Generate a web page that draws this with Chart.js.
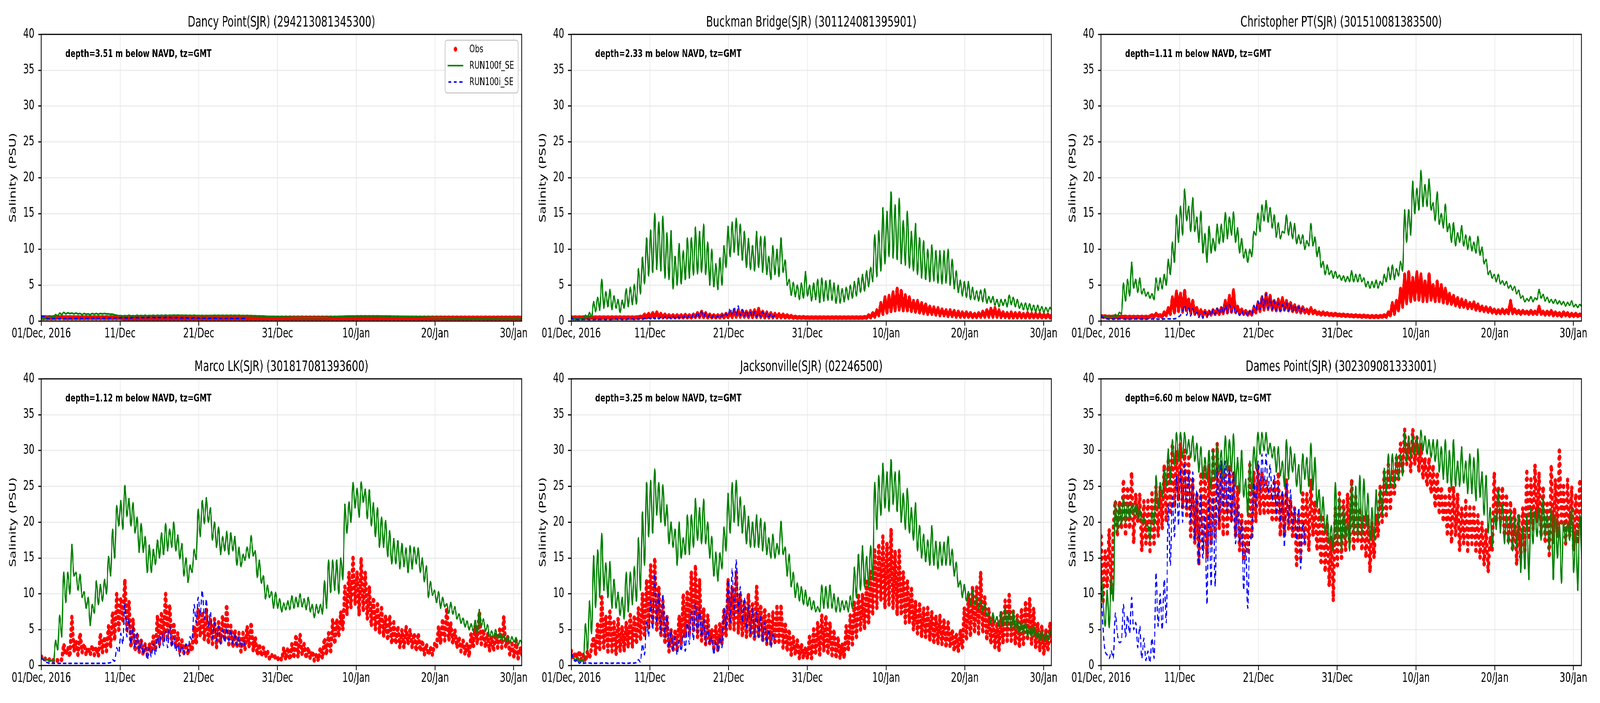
<!DOCTYPE html>
<html>
<head>
<meta charset="utf-8">
<script src="https://cdn.jsdelivr.net/npm/chart.js@4.4.1/dist/chart.umd.min.js"></script>
<style>
  html, body { margin: 0; padding: 0; background: #fff; overflow: hidden; }
  #outer { position: relative; overflow: hidden; background: #fff; }
  #wrap { position: absolute; left: 0; top: 0; width: 6000px; height: 1800px; transform-origin: 0 0; }
  #wrap canvas { position: absolute; }
</style>
</head>
<body>
<div id="outer"><div id="wrap"></div></div>
<script>
// sampling interval of the series below (half a tidal cycle), hours from 01/Dec 00:00
const stepHours = 6.21;
const xMaxHours = 1464;
const xTickHours = [0, 240, 480, 720, 960, 1200, 1440];
const xTickLabels = ['01/Dec, 2016', '11/Dec', '21/Dec', '31/Dec', '10/Jan', '20/Jan', '30/Jan'];
const yMax = 40;
const yStep = 5;
const seriesLabels = ['Obs', 'RUN100f_SE', 'RUN100i_SE'];

const stationTitles = [
  'Dancy Point(SJR) (294213081345300)',
  'Buckman Bridge(SJR) (301124081395901)',
  'Christopher PT(SJR) (301510081383500)',
  'Marco LK(SJR) (301817081393600)',
  'Jacksonville(SJR) (02246500)',
  'Dames Point(SJR) (302309081333001)'
];
const depthNotes = [
  'depth=3.51 m below NAVD, tz=GMT',
  'depth=2.33 m below NAVD, tz=GMT',
  'depth=1.11 m below NAVD, tz=GMT',
  'depth=1.12 m below NAVD, tz=GMT',
  'depth=3.25 m below NAVD, tz=GMT',
  'depth=6.60 m below NAVD, tz=GMT'
];

// ---- Dancy Point ----
const dancyObs = [
  0.5, 0.45, 0.5, 0.45, 0.5, 0.45, 0.5, 0.45, 0.55, 0.45,
  0.55, 0.45, 0.5, 0.45, 0.5, 0.45, 0.5, 0.45, 0.5, 0.45,
  0.5, 0.45, 0.5, 0.45, 0.5, 0.45, 0.5, 0.45, 0.5, 0.45,
  0.5, 0.45, 0.5, 0.45, 0.5, 0.45, 0.5, 0.45, 0.5, 0.45,
  0.45, 0.4, 0.45, 0.4, 0.45, 0.4, 0.45, 0.4, 0.45, 0.4,
  0.45, 0.4, 0.45, 0.4, 0.45, 0.4, 0.45, 0.4, 0.45, 0.4,
  0.45, 0.4, 0.45, 0.4, 0.45, 0.4, 0.45, 0.4, 0.45, 0.4,
  0.45, 0.4, 0.45, 0.4, 0.45, 0.4, 0.45, 0.4, 0.45, 0.4,
  0.45, 0.4, 0.45, 0.4, 0.45, 0.4, 0.45, 0.4, 0.45, 0.4,
  0.45, 0.4, 0.45, 0.4, 0.45, 0.4, 0.45, 0.4, 0.45, 0.4,
  0.45, 0.4, 0.45, 0.4, 0.45, 0.4, 0.45, 0.4, 0.45, 0.4,
  0.45, 0.4, 0.45, 0.4, 0.45, 0.4, 0.45, 0.4, 0.45, 0.4,
  0.45, 0.4, 0.45, 0.4, 0.45, 0.4, 0.45, 0.4, 0.45, 0.4,
  0.45, 0.4, 0.45, 0.4, 0.45, 0.4, 0.45, 0.4, 0.45, 0.4,
  0.45, 0.4, 0.45, 0.4, 0.45, 0.4, 0.45, 0.4, 0.45, 0.4,
  0.45, 0.4, 0.45, 0.4, 0.45, 0.4, 0.45, 0.4, 0.45, 0.4,
  0.45, 0.4, 0.45, 0.4, 0.45, 0.4, 0.45, 0.4, 0.45, 0.4,
  0.45, 0.4, 0.45, 0.4, 0.45, 0.4, 0.45, 0.4, 0.45, 0.4,
  0.45, 0.4, 0.45, 0.4, 0.45, 0.4, 0.45, 0.4, 0.45, 0.4,
  0.45, 0.4, 0.45, 0.4, 0.45, 0.4, 0.45, 0.4, 0.45, 0.4,
  0.45, 0.4, 0.45, 0.4, 0.45, 0.4, 0.45, 0.4, 0.45, 0.4,
  0.45, 0.4, 0.45, 0.4, 0.45, 0.4, 0.45, 0.4, 0.45, 0.4,
  0.45, 0.4, 0.45, 0.4, 0.45, 0.4, 0.45, 0.4, 0.45, 0.4,
  0.45, 0.4, 0.45, 0.4, 0.45, 0.4, 0.45
];
const dancyRun100f = [
  0.4, 0.45, 0.4, 0.5, 0.5, 0.6, 0.55, 0.9, 0.7, 1.1,
  0.9, 1.2, 1.0, 1.15, 1.05, 1.1, 1.0, 1.1, 1.0, 1.05,
  0.9, 1.05, 0.95, 1.0, 0.9, 1.05, 0.95, 1.05, 0.95, 1.05,
  1.0, 1.05, 1.0, 1.0, 0.95, 0.95, 0.85, 0.8, 0.75, 0.75,
  0.7, 0.75, 0.7, 0.8, 0.7, 0.75, 0.7, 0.8, 0.72, 0.78,
  0.72, 0.8, 0.72, 0.78, 0.74, 0.8, 0.74, 0.8, 0.75, 0.8,
  0.76, 0.82, 0.76, 0.8, 0.78, 0.82, 0.78, 0.82, 0.78, 0.8,
  0.78, 0.8, 0.76, 0.8, 0.76, 0.8, 0.76, 0.78, 0.75, 0.78,
  0.75, 0.78, 0.75, 0.78, 0.76, 0.8, 0.76, 0.8, 0.76, 0.8,
  0.76, 0.8, 0.76, 0.8, 0.76, 0.8, 0.76, 0.8, 0.75, 0.78,
  0.75, 0.78, 0.74, 0.76, 0.72, 0.74, 0.7, 0.72, 0.68, 0.7,
  0.66, 0.66, 0.62, 0.64, 0.6, 0.62, 0.58, 0.6, 0.56, 0.58,
  0.54, 0.56, 0.52, 0.54, 0.5, 0.52, 0.5, 0.52, 0.48, 0.5,
  0.48, 0.5, 0.48, 0.5, 0.48, 0.5, 0.5, 0.52, 0.5, 0.52,
  0.5, 0.54, 0.55, 0.58, 0.6, 0.62, 0.64, 0.66, 0.66, 0.68,
  0.68, 0.7, 0.68, 0.7, 0.68, 0.72, 0.7, 0.72, 0.7, 0.72,
  0.7, 0.72, 0.7, 0.72, 0.7, 0.72, 0.7, 0.7, 0.68, 0.7,
  0.68, 0.7, 0.66, 0.68, 0.66, 0.68, 0.64, 0.66, 0.64, 0.65,
  0.62, 0.64, 0.6, 0.62, 0.58, 0.6, 0.56, 0.58, 0.54, 0.55,
  0.52, 0.53, 0.5, 0.51, 0.48, 0.5, 0.47, 0.48, 0.46, 0.47,
  0.45, 0.46, 0.44, 0.45, 0.43, 0.45, 0.43, 0.44, 0.42, 0.44,
  0.42, 0.44, 0.42, 0.44, 0.42, 0.44, 0.42, 0.44, 0.43, 0.45,
  0.43, 0.45, 0.43, 0.45, 0.44, 0.46, 0.44, 0.46, 0.44, 0.46,
  0.44, 0.46, 0.44, 0.46, 0.45, 0.46, 0.45
];
const dancyRun100i = [
  0.6, 0.7, 0.4, 0.35, 0.3, 0.35, 0.3, 0.35, 0.3, 0.35,
  0.3, 0.35, 0.3, 0.35, 0.32, 0.36, 0.32, 0.36, 0.32, 0.36,
  0.34, 0.38, 0.34, 0.38, 0.35, 0.4, 0.36, 0.4, 0.36, 0.4,
  0.38, 0.42, 0.38, 0.42, 0.4, 0.44, 0.4, 0.44, 0.42, 0.46,
  0.42, 0.46, 0.42, 0.46, 0.44, 0.48, 0.44, 0.48, 0.45, 0.5,
  0.45, 0.5, 0.46, 0.52, 0.46, 0.52, 0.47, 0.52, 0.47, 0.52,
  0.47, 0.52, 0.46, 0.5, 0.45, 0.5, 0.44, 0.48, 0.42, 0.46,
  0.42, 0.45, 0.4, 0.44, 0.4, 0.44, 0.38, 0.42, 0.38, 0.42,
  0.38, 0.42, 0.36, 0.4, 0.36, 0.4, 0.36, 0.4, 0.35, 0.38,
  0.35, 0.38, 0.35, 0.38, 0.35, 0.38, 0.35, 0.38, 0.35, 0.38, 0.36
];

// ---- Buckman Bridge ----
const buckmanObs = [
  0.5, 0.45, 0.5, 0.45, 0.5, 0.45, 0.5, 0.45, 0.5, 0.45,
  0.5, 0.45, 0.5, 0.45, 0.5, 0.45, 0.5, 0.45, 0.5, 0.45,
  0.5, 0.45, 0.5, 0.45, 0.5, 0.45, 0.5, 0.45, 0.5, 0.45,
  0.5, 0.45, 0.5, 0.5, 0.6, 0.5, 0.9, 0.5, 1.0, 0.5,
  1.1, 0.55, 1.2, 0.55, 1.0, 0.5, 0.9, 0.5, 0.8, 0.5,
  0.8, 0.5, 0.8, 0.5, 0.8, 0.5, 0.85, 0.5, 0.8, 0.5,
  0.9, 0.55, 1.1, 0.55, 1.3, 0.55, 1.1, 0.5, 0.9, 0.5,
  0.8, 0.5, 0.8, 0.5, 0.9, 0.5, 1.0, 0.55, 1.2, 0.55,
  1.4, 0.6, 1.5, 0.6, 1.4, 0.6, 1.3, 0.55, 1.4, 0.55,
  1.5, 0.55, 1.7, 0.55, 1.3, 0.5, 1.2, 0.5, 1.1, 0.5,
  1.0, 0.5, 0.95, 0.5, 0.9, 0.5, 0.8, 0.5, 0.7, 0.45,
  0.6, 0.45, 0.55, 0.45, 0.55, 0.45, 0.5, 0.45, 0.5, 0.45,
  0.5, 0.45, 0.5, 0.45, 0.5, 0.45, 0.5, 0.45, 0.5, 0.45,
  0.5, 0.45, 0.5, 0.45, 0.5, 0.45, 0.5, 0.45, 0.5, 0.45,
  0.5, 0.45, 0.5, 0.45, 0.55, 0.45, 0.8, 0.5, 1.1, 0.6,
  1.5, 0.8, 2.5, 1.0, 3.3, 1.2, 3.5, 1.4, 4.0, 1.5,
  4.5, 1.6, 4.2, 1.5, 3.6, 1.5, 3.3, 1.4, 2.8, 1.3,
  2.8, 1.2, 2.5, 1.1, 2.3, 1.0, 2.0, 1.0, 1.9, 0.9,
  1.8, 0.8, 1.6, 0.8, 1.5, 0.7, 1.5, 0.7, 1.4, 0.6,
  1.3, 0.6, 1.2, 0.6, 1.2, 0.6, 1.1, 0.55, 1.0, 0.55,
  1.1, 0.6, 1.3, 0.6, 1.5, 0.6, 1.7, 0.6, 1.8, 0.6,
  1.5, 0.55, 1.2, 0.55, 1.1, 0.5, 1.2, 0.5, 1.1, 0.5,
  1.1, 0.5, 1.0, 0.5, 1.1, 0.5, 1.0, 0.5, 1.0, 0.5,
  1.0, 0.5, 0.9, 0.5, 0.9, 0.5, 0.8
];
const buckmanRun100f = [
  0.4, 0.5, 0.2, 0.4, 0.2, 0.5, 0.3, 0.8, 0.4, 1.2,
  0.5, 2.7, 1.3, 3.3, 1.5, 5.8, 1.8, 4.1, 2.0, 4.4,
  1.6, 3.5, 1.8, 3.0, 1.2, 2.9, 1.8, 4.5, 2.0, 4.7,
  2.3, 5.1, 2.4, 7.3, 3.8, 8.9, 5.2, 11.6, 6.3, 12.7,
  6.8, 15.0, 7.2, 13.8, 7.0, 14.6, 6.0, 12.3, 5.8, 12.6,
  4.5, 9.0, 5.0, 10.8, 5.2, 9.8, 5.8, 11.6, 6.0, 11.6,
  6.4, 13.1, 6.6, 12.5, 6.8, 13.5, 6.5, 11.0, 5.0, 10.0,
  4.8, 8.0, 4.4, 8.8, 5.0, 10.5, 7.5, 13.2, 9.0, 13.8,
  9.6, 14.3, 9.2, 13.5, 8.5, 12.5, 7.5, 11.5, 7.2, 10.5,
  7.0, 12.5, 7.5, 11.8, 6.8, 11.8, 6.5, 9.0, 5.8, 10.5,
  6.5, 10.0, 6.2, 11.6, 6.8, 8.5, 5.0, 5.8, 3.6, 5.4,
  3.4, 5.0, 3.0, 5.3, 3.2, 6.9, 3.5, 5.0, 2.8, 5.3,
  3.0, 5.8, 2.6, 6.0, 2.8, 5.6, 2.9, 5.7, 2.9, 5.3,
  2.5, 5.0, 2.5, 4.5, 2.7, 4.7, 3.0, 5.0, 3.2, 5.5,
  3.5, 6.0, 4.0, 6.5, 4.2, 7.0, 4.8, 7.5, 5.5, 12.0,
  6.2, 12.6, 7.0, 15.8, 8.0, 15.3, 9.0, 18.0, 8.8, 16.2,
  8.6, 17.1, 8.0, 14.0, 7.8, 15.3, 7.4, 12.5, 7.0, 13.6,
  6.5, 11.6, 6.0, 11.2, 5.8, 10.0, 5.5, 10.6, 5.6, 9.8,
  5.3, 9.8, 5.2, 9.8, 5.3, 10.0, 5.0, 8.6, 4.5, 7.0,
  4.0, 5.7, 3.5, 5.5, 3.3, 5.5, 3.0, 4.7, 3.0, 4.2,
  2.8, 4.3, 2.7, 4.5, 2.5, 3.4, 2.6, 3.4, 2.2, 3.0,
  2.0, 3.0, 2.2, 3.0, 2.0, 3.6, 2.3, 3.3, 2.0, 3.0,
  1.8, 2.5, 1.6, 2.5, 1.5, 2.4, 1.4, 2.2, 1.3, 2.2,
  1.3, 2.0, 1.2, 1.9, 1.3, 1.9, 1.4
];
const buckmanRun100i = [
  0.6, 0.2, 0.3, 0.2, 0.25, 0.2, 0.25, 0.2, 0.25, 0.2,
  0.25, 0.2, 0.25, 0.2, 0.25, 0.2, 0.25, 0.2, 0.25, 0.2,
  0.25, 0.2, 0.3, 0.2, 0.3, 0.2, 0.3, 0.22, 0.3, 0.22,
  0.3, 0.22, 0.3, 0.25, 0.35, 0.25, 0.35, 0.3, 0.45, 0.3,
  0.5, 0.3, 0.5, 0.32, 0.5, 0.32, 0.55, 0.35, 0.5, 0.35,
  0.6, 0.4, 0.7, 0.4, 0.7, 0.45, 0.8, 0.45, 0.8, 0.5,
  0.9, 0.55, 1.2, 0.6, 1.3, 0.6, 1.1, 0.55, 0.9, 0.5,
  0.8, 0.5, 0.7, 0.5, 0.8, 0.6, 1.0, 0.7, 1.8, 0.8,
  2.0, 0.8, 2.1, 0.8, 1.6, 0.7, 1.4, 0.7, 1.2, 0.6,
  1.3, 0.6, 1.2, 0.6, 1.3, 0.6, 1.1, 0.6, 1.0, 0.6, 0.8
];

// ---- Christopher PT ----
const christopherObs = [
  0.7, 0.6, 0.65, 0.55, 0.6, 0.55, 0.6, 0.55, 0.6, 0.55,
  0.6, 0.55, 0.6, 0.5, 0.6, 0.5, 0.6, 0.5, 0.6, 0.5,
  0.6, 0.5, 0.6, 0.5, 0.65, 0.8, 0.6, 1.0, 0.7, 0.8,
  0.6, 1.2, 0.8, 1.8, 1.0, 3.3, 1.2, 4.1, 1.4, 3.8,
  1.3, 4.2, 1.5, 3.0, 1.2, 2.8, 1.0, 1.8, 0.9, 1.5,
  0.8, 1.4, 0.8, 1.3, 0.9, 1.5, 1.0, 1.6, 1.0, 1.8,
  1.1, 2.8, 1.2, 3.5, 1.3, 4.3, 1.3, 2.0, 1.0, 1.6,
  1.0, 1.4, 0.9, 1.3, 0.9, 1.8, 1.2, 2.5, 1.4, 3.3,
  1.6, 3.8, 1.7, 3.5, 1.6, 2.8, 1.5, 3.0, 1.5, 3.2,
  1.6, 2.8, 1.5, 2.5, 1.4, 2.2, 1.3, 2.0, 1.2, 1.9,
  1.2, 1.6, 1.1, 1.8, 1.1, 1.4, 1.0, 1.2, 0.9, 1.2,
  0.9, 1.1, 0.85, 1.0, 0.8, 1.0, 0.8, 0.9, 0.75, 0.9,
  0.7, 0.85, 0.7, 0.8, 0.65, 0.8, 0.65, 0.75, 0.6, 0.75,
  0.6, 0.7, 0.55, 0.7, 0.55, 0.7, 0.55, 0.7, 0.6, 0.8,
  0.6, 1.2, 0.8, 2.5, 1.0, 2.8, 1.5, 4.5, 2.0, 6.5,
  2.5, 6.8, 2.8, 6.0, 3.0, 6.8, 3.0, 6.5, 2.8, 5.5,
  2.8, 6.5, 3.0, 5.0, 2.8, 5.5, 2.8, 5.0, 2.6, 4.5,
  2.5, 3.8, 2.4, 3.5, 2.2, 3.2, 2.0, 3.0, 2.0, 2.8,
  1.8, 2.5, 1.8, 2.6, 1.6, 2.3, 1.5, 2.0, 1.4, 1.9,
  1.3, 1.8, 1.2, 1.6, 1.1, 1.5, 1.1, 1.6, 1.1, 1.5,
  1.1, 2.8, 1.1, 1.6, 1.1, 1.4, 1.0, 1.4, 1.1, 1.3,
  1.0, 1.4, 1.0, 1.3, 1.0, 2.0, 1.0, 1.3, 0.9, 1.3,
  0.9, 1.4, 0.8, 1.2, 0.8, 1.1, 0.7, 1.2, 0.8, 1.1,
  0.7, 1.0, 0.7, 1.0, 0.7, 0.9, 0.8
];
const christopherRun100f = [
  0.7, 0.5, 0.6, 0.5, 0.5, 0.5, 0.6, 0.9, 0.6, 1.2,
  1.0, 5.3, 2.8, 5.8, 3.5, 8.2, 4.6, 5.8, 4.0, 6.0,
  3.8, 4.5, 3.5, 4.0, 3.2, 3.8, 3.0, 6.0, 4.3, 6.0,
  4.5, 6.5, 5.0, 8.6, 6.5, 11.0, 8.2, 14.8, 11.0, 16.0,
  12.0, 18.4, 14.0, 16.0, 12.5, 17.2, 12.5, 14.5, 11.0, 15.3,
  9.5, 12.2, 8.2, 13.2, 9.5, 11.5, 9.8, 13.5, 10.8, 13.5,
  11.0, 15.1, 11.5, 14.5, 12.0, 15.2, 11.0, 13.0, 9.5, 11.5,
  8.8, 10.0, 8.2, 10.0, 9.0, 12.5, 12.0, 15.0, 12.5, 16.2,
  14.0, 16.8, 13.8, 15.8, 13.0, 14.8, 11.7, 13.7, 11.5, 12.5,
  12.3, 14.8, 12.0, 13.8, 11.5, 13.6, 10.8, 12.0, 10.8, 12.0,
  10.0, 11.2, 10.5, 13.6, 10.5, 11.7, 9.0, 10.3, 7.5, 8.3,
  6.5, 7.8, 6.5, 7.0, 6.0, 6.9, 6.0, 6.4, 5.7, 6.3,
  5.5, 6.2, 5.5, 7.0, 5.5, 6.5, 5.5, 6.5, 5.5, 6.0,
  4.8, 5.5, 4.6, 5.5, 4.7, 5.7, 4.6, 5.5, 5.0, 6.5,
  5.5, 7.5, 5.8, 7.8, 5.8, 7.3, 6.3, 8.3, 7.0, 15.5,
  11.0, 15.5, 12.0, 19.5, 15.0, 18.5, 15.5, 21.0, 16.0, 19.0,
  16.0, 19.8, 15.5, 16.5, 14.0, 18.0, 13.5, 15.0, 13.0, 16.3,
  12.5, 13.6, 11.0, 13.7, 10.5, 12.3, 11.0, 13.3, 10.5, 12.0,
  10.0, 11.8, 9.8, 11.0, 9.5, 11.8, 9.2, 10.3, 8.0, 8.6,
  6.5, 7.0, 6.0, 6.5, 5.5, 6.5, 5.2, 5.6, 5.0, 5.5,
  4.6, 5.0, 4.3, 4.8, 3.8, 4.3, 3.2, 3.5, 2.7, 3.1,
  2.8, 3.4, 2.7, 3.2, 3.0, 4.4, 3.2, 3.7, 2.8, 3.3,
  2.6, 3.0, 2.5, 3.0, 2.4, 2.8, 2.3, 2.7, 2.1, 2.6,
  2.2, 2.8, 2.0, 2.3, 1.9, 2.3, 2.0
];
const christopherRun100i = [
  0.7, 0.5, 0.3, 0.3, 0.25, 0.3, 0.25, 0.3, 0.25, 0.3,
  0.25, 0.3, 0.25, 0.3, 0.25, 0.3, 0.25, 0.3, 0.25, 0.3,
  0.25, 0.3, 0.25, 0.3, 0.25, 0.3, 0.25, 0.3, 0.25, 0.3,
  0.25, 0.3, 0.25, 0.3, 0.3, 0.3, 0.3, 0.4, 0.6, 0.8,
  1.4, 2.2, 0.8, 1.8, 0.7, 1.7, 0.9, 1.2, 0.5, 1.0,
  0.4, 1.3, 0.5, 1.5, 0.8, 1.6, 0.9, 1.8, 1.0, 2.0,
  1.0, 2.2, 1.1, 2.3, 1.2, 2.0, 1.0, 1.5, 0.8, 1.4,
  0.8, 1.2, 0.7, 1.4, 0.9, 2.2, 1.5, 2.8, 1.6, 3.5,
  1.8, 3.8, 1.7, 3.2, 1.6, 2.8, 1.5, 2.5, 1.4, 2.3,
  1.5, 2.5, 1.4, 2.3, 1.3, 2.2, 1.4, 2.0, 1.3, 1.9, 1.5
];

// ---- Marco LK ----
const marcoObs = [
  1.2, 1.0, 0.9, 0.8, 0.8, 0.7, 0.7, 0.8, 0.7, 0.8,
  0.8, 3.0, 1.5, 2.5, 1.2, 6.8, 2.0, 3.5, 1.5, 4.5,
  1.8, 3.0, 1.5, 2.5, 1.5, 2.8, 1.5, 2.5, 1.3, 4.5,
  1.8, 4.0, 2.0, 5.5, 2.5, 7.5, 3.5, 10.0, 5.0, 9.5,
  6.0, 12.0, 5.0, 9.0, 2.5, 6.5, 2.0, 4.5, 1.8, 3.5,
  1.5, 3.0, 1.5, 3.0, 1.8, 4.0, 2.0, 7.0, 3.0, 7.5,
  3.5, 10.0, 4.0, 8.5, 3.0, 6.0, 2.5, 4.5, 2.0, 3.5,
  1.8, 3.0, 1.5, 3.0, 2.0, 5.5, 3.0, 8.0, 4.0, 7.5,
  3.5, 8.0, 3.0, 6.5, 3.0, 6.5, 2.5, 6.0, 3.0, 7.0,
  3.5, 8.5, 3.0, 5.5, 2.5, 5.0, 2.5, 4.5, 2.0, 4.5,
  2.2, 5.5, 2.5, 6.0, 2.0, 4.0, 1.5, 3.0, 1.3, 2.5,
  1.2, 2.0, 1.0, 1.5, 1.0, 1.3, 0.9, 1.2, 0.8, 2.5,
  0.8, 2.5, 0.8, 3.0, 1.0, 4.3, 1.2, 4.3, 1.5, 3.0,
  1.0, 2.5, 1.0, 2.0, 0.7, 1.5, 0.7, 2.5, 1.0, 3.8,
  1.5, 4.5, 2.0, 6.5, 3.0, 6.5, 4.0, 7.5, 5.0, 11.0,
  7.0, 13.0, 8.0, 15.0, 8.5, 13.0, 7.0, 15.0, 7.5, 13.0,
  6.5, 11.0, 5.5, 9.5, 5.0, 8.5, 4.5, 8.0, 4.0, 7.0,
  3.5, 7.0, 3.0, 6.0, 3.0, 5.5, 2.5, 5.0, 2.5, 5.5,
  3.0, 5.0, 2.5, 4.5, 2.0, 4.5, 2.0, 3.5, 1.5, 3.0,
  1.5, 2.5, 1.5, 3.0, 2.5, 5.5, 3.0, 6.5, 3.5, 8.0,
  3.5, 6.0, 3.0, 5.0, 2.5, 4.0, 2.0, 3.5, 1.5, 3.0,
  1.2, 4.5, 2.5, 5.5, 3.0, 7.5, 3.0, 5.0, 2.5, 4.5,
  2.0, 4.0, 2.0, 4.5, 2.5, 5.0, 2.5, 6.8, 2.5, 4.0,
  1.5, 3.0, 1.2, 3.5, 1.0, 2.5, 1.5
];
const marcoRun100f = [
  1.0, 0.9, 0.8, 0.8, 0.6, 0.7, 0.5, 3.5, 2.2, 7.0,
  4.0, 13.0, 8.8, 13.0, 10.0, 16.9, 12.5, 13.0, 10.5, 12.7,
  9.5, 10.3, 8.0, 9.5, 5.6, 8.5, 7.3, 11.8, 8.5, 11.3,
  9.0, 12.0, 10.0, 15.2, 12.5, 19.0, 15.0, 22.3, 19.5, 23.0,
  19.0, 25.1, 20.8, 23.3, 19.5, 22.7, 18.5, 20.7, 15.8, 19.8,
  15.8, 18.0, 13.0, 16.8, 13.0, 16.2, 14.1, 17.5, 15.0, 18.5,
  15.5, 19.8, 16.0, 19.0, 16.5, 20.0, 16.0, 18.2, 14.9, 17.0,
  12.5, 15.0, 11.6, 14.0, 13.0, 16.2, 14.8, 21.8, 18.0, 23.0,
  19.8, 23.4, 20.0, 22.0, 17.5, 20.0, 16.5, 19.3, 15.5, 18.0,
  16.0, 18.7, 15.5, 18.5, 16.0, 18.0, 14.0, 16.5, 13.8, 15.5,
  14.7, 16.5, 15.0, 18.1, 15.3, 16.0, 12.3, 14.7, 11.5, 12.5,
  9.3, 11.2, 9.5, 10.3, 8.0, 10.2, 8.0, 9.3, 7.5, 8.7,
  7.8, 9.0, 7.8, 9.7, 8.0, 9.5, 8.2, 10.0, 8.2, 9.3,
  7.8, 9.5, 7.5, 8.5, 6.7, 8.5, 7.3, 8.5, 7.2, 11.8,
  8.0, 14.7, 10.2, 14.7, 10.5, 14.7, 10.0, 15.0, 12.0, 22.5,
  18.5, 22.8, 20.0, 25.5, 22.0, 24.7, 20.7, 25.6, 22.8, 24.6,
  20.5, 24.5, 19.5, 22.7, 18.0, 22.0, 16.5, 20.7, 16.5, 20.2,
  15.2, 18.8, 14.2, 17.7, 14.2, 17.4, 13.5, 17.0, 13.8, 16.4,
  13.0, 16.7, 13.5, 16.5, 14.2, 16.4, 13.0, 15.0, 11.7, 13.9,
  9.5, 11.7, 9.8, 10.5, 8.8, 10.3, 8.0, 9.5, 8.2, 8.6,
  7.3, 8.8, 7.2, 8.2, 6.5, 7.2, 5.9, 6.6, 5.4, 6.2,
  5.0, 5.8, 4.8, 6.3, 4.5, 7.8, 5.5, 6.5, 4.8, 5.7,
  4.0, 4.8, 3.9, 5.0, 3.8, 4.5, 3.5, 4.3, 3.3, 4.0,
  3.2, 4.0, 3.3, 3.9, 2.8, 3.5, 3.0
];
const marcoRun100i = [
  1.0, 0.8, 0.5, 0.4, 0.3, 0.3, 0.3, 0.3, 0.3, 0.3,
  0.3, 0.3, 0.3, 0.3, 0.3, 0.3, 0.3, 0.3, 0.3, 0.3,
  0.3, 0.3, 0.3, 0.3, 0.3, 0.3, 0.3, 0.3, 0.3, 0.3,
  0.3, 0.3, 0.3, 0.35, 0.4, 0.8, 0.6, 2.5, 1.8, 4.5,
  3.0, 8.5, 4.0, 6.5, 3.0, 5.5, 2.5, 4.5, 2.0, 3.5,
  1.5, 2.8, 0.8, 2.5, 1.2, 3.0, 1.5, 4.0, 2.5, 4.5,
  2.8, 4.8, 2.5, 5.5, 2.5, 4.0, 2.0, 3.0, 1.3, 2.8,
  1.5, 3.0, 2.0, 4.0, 3.5, 8.5, 6.0, 9.5, 7.0, 10.5,
  6.5, 9.3, 5.5, 7.5, 3.8, 6.0, 3.5, 5.5, 3.0, 5.0,
  3.2, 5.3, 3.5, 5.0, 3.0, 4.5, 2.8, 4.0, 2.5, 3.5, 2.5
];

// ---- Jacksonville ----
const jaxObs = [
  2.0, 1.0, 1.8, 0.8, 2.0, 0.8, 1.5, 0.6, 2.0, 1.0,
  2.5, 4.0, 1.5, 6.0, 2.0, 9.5, 2.5, 7.0, 2.0, 7.5,
  2.0, 6.0, 1.5, 6.5, 2.0, 5.5, 2.0, 6.0, 2.5, 7.0,
  2.5, 7.0, 3.0, 8.0, 3.5, 10.0, 4.0, 12.0, 5.0, 14.0,
  6.0, 15.0, 5.0, 11.0, 4.0, 9.0, 3.0, 7.0, 2.0, 5.0,
  2.0, 5.0, 2.0, 7.0, 3.0, 10.0, 4.0, 10.5, 4.5, 13.0,
  5.0, 14.0, 4.0, 12.0, 3.5, 8.0, 3.0, 7.0, 3.0, 5.0,
  2.5, 5.5, 2.0, 6.0, 3.0, 8.0, 4.0, 12.0, 5.0, 11.0,
  5.0, 13.0, 4.5, 10.0, 4.0, 9.0, 4.0, 10.0, 4.0, 8.5,
  3.5, 11.0, 4.0, 8.5, 3.5, 8.0, 3.0, 7.0, 3.0, 7.5,
  3.0, 8.5, 3.0, 8.5, 2.5, 6.0, 2.0, 5.0, 1.5, 4.0,
  1.5, 3.5, 1.0, 3.0, 1.0, 2.5, 1.0, 4.0, 1.0, 5.0,
  1.5, 6.0, 1.5, 7.0, 2.0, 7.0, 1.5, 6.0, 1.5, 5.0,
  1.0, 4.0, 1.0, 3.0, 1.0, 5.5, 2.0, 7.0, 3.0, 9.0,
  4.0, 10.0, 5.0, 10.0, 5.0, 12.0, 6.0, 13.0, 7.0, 16.0,
  8.0, 17.0, 9.0, 18.0, 8.0, 17.0, 8.5, 19.0, 8.0, 16.0,
  7.0, 16.0, 7.0, 13.0, 6.0, 12.0, 6.0, 11.0, 5.0, 9.0,
  4.5, 8.5, 4.0, 8.0, 4.0, 8.0, 3.5, 7.5, 3.0, 7.0,
  3.0, 7.0, 3.0, 6.5, 2.5, 6.0, 2.5, 5.0, 2.0, 4.5,
  2.0, 5.0, 2.5, 8.0, 3.5, 10.0, 4.0, 11.0, 4.5, 11.0,
  4.5, 13.0, 4.5, 9.5, 3.5, 8.0, 3.0, 6.5, 2.5, 6.0,
  2.0, 7.5, 3.0, 9.0, 3.5, 9.8, 3.5, 7.5, 3.0, 7.0,
  2.5, 8.0, 3.0, 9.0, 3.5, 9.3, 3.0, 8.0, 2.5, 6.0,
  2.0, 5.5, 1.5, 5.0, 2.0, 6.0, 3.0
];
const jaxRun100f = [
  1.7, 1.2, 0.8, 1.0, 0.6, 0.9, 0.5, 5.8, 2.0, 9.0,
  4.5, 15.3, 8.1, 16.1, 9.5, 18.4, 10.5, 14.3, 9.5, 14.5,
  8.0, 12.0, 8.0, 10.2, 7.0, 9.5, 6.5, 13.0, 7.5, 13.0,
  8.5, 13.8, 9.0, 17.8, 10.5, 21.4, 14.0, 25.5, 18.0, 25.8,
  18.5, 27.4, 21.0, 25.5, 20.0, 25.2, 19.5, 22.4, 17.0, 20.0,
  16.5, 19.0, 14.0, 20.0, 15.0, 17.8, 15.5, 21.0, 15.5, 21.0,
  16.5, 23.3, 17.5, 22.0, 17.0, 23.2, 17.0, 20.0, 15.0, 18.0,
  12.5, 15.8, 11.8, 15.7, 13.5, 19.3, 16.0, 24.0, 18.5, 25.5,
  20.0, 25.8, 19.5, 23.5, 18.5, 22.3, 17.0, 20.8, 16.5, 20.0,
  16.5, 21.0, 16.5, 20.5, 16.0, 20.0, 15.5, 17.8, 15.0, 18.3,
  15.0, 17.0, 15.5, 20.1, 15.5, 16.5, 12.5, 15.5, 11.0, 13.0,
  9.5, 11.5, 9.0, 11.0, 8.5, 10.5, 8.3, 9.5, 7.8, 9.0,
  7.5, 8.2, 7.5, 11.2, 8.0, 11.0, 8.0, 11.2, 8.0, 10.0,
  7.5, 9.5, 7.5, 9.0, 7.8, 9.0, 7.5, 9.7, 8.0, 13.7,
  9.5, 15.5, 10.5, 16.7, 11.0, 15.2, 11.0, 16.7, 12.0, 25.5,
  19.0, 26.5, 21.0, 28.2, 22.0, 27.0, 21.5, 28.7, 22.5, 27.0,
  21.5, 27.2, 20.0, 24.0, 19.0, 24.7, 18.5, 22.0, 17.5, 22.7,
  16.0, 19.5, 15.0, 18.3, 14.5, 17.5, 14.0, 19.5, 14.0, 17.3,
  13.5, 17.2, 14.0, 17.2, 14.0, 18.0, 14.0, 16.2, 12.5, 14.4,
  11.0, 11.8, 9.5, 11.3, 9.0, 10.3, 8.5, 10.5, 8.5, 9.5,
  8.0, 9.0, 7.5, 8.5, 7.0, 7.3, 6.0, 7.3, 6.0, 6.8,
  5.5, 7.5, 5.5, 8.0, 5.5, 7.4, 5.0, 7.7, 5.0, 6.5,
  4.5, 6.0, 4.5, 6.0, 4.0, 5.3, 4.0, 5.5, 4.0, 4.8,
  3.5, 4.8, 3.5, 4.5, 3.5, 4.8, 3.8
];
const jaxRun100i = [
  1.8, 1.0, 0.6, 0.8, 0.3, 0.5, 0.3, 0.35, 0.3, 0.35,
  0.3, 0.35, 0.3, 0.35, 0.3, 0.35, 0.3, 0.35, 0.3, 0.35,
  0.3, 0.35, 0.3, 0.35, 0.3, 0.35, 0.3, 0.35, 0.3, 0.35,
  0.3, 0.35, 0.4, 0.8, 0.5, 3.0, 1.5, 6.0, 4.0, 9.0,
  5.0, 12.8, 6.0, 10.0, 4.5, 10.0, 4.0, 7.0, 2.5, 5.0,
  2.0, 4.0, 1.5, 3.5, 2.0, 4.5, 2.0, 6.0, 3.0, 7.5,
  3.5, 8.7, 4.5, 8.0, 4.0, 6.5, 3.0, 5.5, 3.0, 4.0,
  1.5, 3.5, 2.0, 4.0, 2.5, 8.0, 5.0, 12.0, 6.0, 13.5,
  7.0, 14.7, 7.5, 11.0, 6.0, 9.5, 5.0, 8.5, 4.5, 8.0,
  4.0, 7.5, 4.0, 7.0, 3.5, 6.0, 3.0, 5.0, 2.5, 4.5, 3.0
];

// ---- Dames Point ----
const damesObs = [
  18, 9, 16, 11, 19, 10, 19, 23, 18, 23,
  19, 26, 18, 25, 19, 27, 17, 24, 20, 24,
  16, 23, 17, 23, 16, 24, 17, 25, 18, 25,
  19, 28, 20, 29, 21, 31, 22, 30, 23, 31,
  22, 30, 21, 29, 18, 26, 17, 24, 14, 27,
  16, 28, 15, 28, 17, 30, 18, 31, 19, 28,
  18, 27, 18, 28, 20, 27, 18, 25, 16, 21,
  15, 20, 16, 28, 18, 27, 20, 28, 21, 27,
  21, 26, 21, 25, 20, 26, 20, 27, 18, 24,
  18, 26, 19, 23, 18, 22, 14, 21, 15, 24,
  17, 24, 16, 26, 18, 23, 16, 22, 14, 21,
  13, 20, 11, 18, 9, 22, 14, 24, 15, 23,
  16, 24, 17, 26, 16, 24, 17, 22, 16, 21,
  15, 21, 13, 20, 15, 21, 18, 25, 20, 27,
  21, 28, 22, 27, 24, 29, 26, 31, 27, 33,
  28, 31, 27, 33, 28, 32, 27, 31, 26, 29,
  25, 29, 24, 28, 22, 27, 21, 25, 20, 24,
  18, 25, 17, 25, 18, 24, 16, 22, 17, 23,
  16, 22, 17, 22, 16, 21, 15, 20, 14, 19,
  13, 18, 16, 27, 20, 25, 20, 25, 18, 24,
  17, 23, 16, 22, 14, 21, 15, 22, 16, 27,
  18, 26, 19, 28, 20, 27, 18, 25, 17, 23,
  15, 28, 17, 26, 18, 30, 20, 25, 17, 26,
  18, 25, 16, 24, 17, 26, 20
];
const damesRun100f = [
  13.8, 9.0, 5.5, 10.5, 5.3, 12.5, 9.0, 23.0, 18.5, 22.5,
  19.5, 23.5, 20.0, 22.7, 20.5, 22.5, 21.0, 22.5, 20.5, 22.0,
  20.0, 20.7, 19.5, 19.5, 17.5, 21.5, 19.5, 26.5, 22.0, 25.5,
  23.5, 27.2, 25.0, 30.2, 25.5, 31.5, 28.0, 32.5, 28.5, 32.5,
  29.0, 32.5, 29.5, 31.5, 29.0, 32.0, 28.5, 31.0, 27.0, 30.5,
  26.0, 29.0, 26.0, 30.0, 24.5, 30.0, 26.0, 31.0, 27.0, 30.0,
  26.0, 32.0, 27.0, 31.5, 27.0, 32.3, 25.0, 29.0, 24.0, 30.0,
  23.5, 26.0, 21.0, 28.5, 24.0, 30.5, 27.5, 32.5, 29.5, 32.5,
  30.0, 32.5, 29.5, 31.0, 29.0, 30.5, 27.0, 30.5, 26.5, 28.5,
  25.0, 31.5, 26.0, 30.5, 27.0, 29.5, 25.0, 28.0, 24.0, 29.5,
  26.0, 29.0, 25.0, 31.0, 24.5, 29.0, 22.0, 24.5, 20.0, 23.5,
  18.5, 21.0, 17.0, 19.5, 16.0, 25.5, 17.0, 23.5, 16.0, 22.0,
  17.5, 20.0, 16.0, 25.7, 18.5, 25.0, 18.0, 26.5, 18.0, 26.0,
  19.5, 24.0, 17.5, 22.0, 17.5, 24.5, 20.0, 24.5, 21.0, 27.5,
  24.0, 29.5, 25.0, 29.5, 25.0, 29.5, 26.0, 29.5, 26.5, 32.5,
  28.5, 32.0, 29.0, 32.0, 29.5, 32.0, 29.5, 32.8, 30.0, 32.0,
  29.5, 31.5, 29.0, 31.5, 28.5, 31.5, 27.0, 30.5, 26.0, 31.5,
  25.5, 30.0, 24.5, 31.5, 25.0, 28.5, 25.0, 30.5, 25.5, 28.5,
  24.0, 29.5, 24.0, 29.0, 23.0, 30.2, 23.5, 27.0, 21.0, 26.5,
  18.5, 22.0, 16.5, 21.0, 19.0, 24.5, 18.5, 22.5, 17.0, 21.0,
  17.0, 21.5, 16.0, 20.5, 16.5, 21.0, 13.0, 19.5, 13.5, 21.0,
  12.0, 22.0, 17.0, 21.5, 18.0, 22.0, 17.5, 23.5, 18.0, 21.0,
  16.0, 22.0, 12.0, 21.0, 15.0, 20.0, 11.5, 20.0, 17.0, 20.0,
  17.5, 22.0, 13.0, 19.0, 10.5, 21.0, 14.0
];
const damesRun100i = [
  11.0, 5.0, 2.0, 1.5, 1.0, 2.0, 1.0, 7.3, 4.5, 3.2,
  3.5, 8.5, 4.0, 7.0, 4.5, 9.5, 5.0, 6.0, 2.5, 5.5,
  1.0, 3.8, 0.7, 2.0, 0.4, 3.8, 1.0, 13.0, 5.5, 10.0,
  5.0, 12.0, 6.0, 22.5, 14.0, 23.5, 18.0, 26.5, 19.5, 27.5,
  20.0, 28.0, 22.0, 27.0, 20.0, 27.0, 17.5, 24.5, 14.0, 24.0,
  15.0, 21.0, 8.5, 23.5, 11.0, 23.5, 11.0, 27.5, 20.0, 28.5,
  22.0, 28.5, 21.0, 27.5, 20.0, 27.0, 17.0, 22.5, 17.0, 20.0,
  10.5, 17.0, 8.0, 18.0, 17.5, 25.5, 22.0, 28.5, 24.0, 29.5,
  25.0, 29.5, 24.0, 28.0, 23.0, 26.5, 21.0, 25.0, 20.0, 24.5,
  16.5, 25.5, 20.0, 24.5, 19.0, 22.0, 17.5, 22.0, 13.5, 20.0, 17.0
];

// ---- layout (reference pixels) ----
const pageW = 6000;
const pageH = 1800;
const colLeft = [0, 1987, 3974];
const colWidth = [1987, 1987, 2026];
const rowTop = [0, 900];
const rowHeight = 900;
const axisLeft = 155;
const plotWidth = 1801;
const padTop = [88, 70];
const axisBottom = [78, 96];

const panelSeries = [
  [dancyObs, dancyRun100f, dancyRun100i],
  [buckmanObs, buckmanRun100f, buckmanRun100i],
  [christopherObs, christopherRun100f, christopherRun100i],
  [marcoObs, marcoRun100f, marcoRun100i],
  [jaxObs, jaxRun100f, jaxRun100i],
  [damesObs, damesRun100f, damesRun100i]
];
// dense obs drawn as a thick band, quantized ones as a dotted trail
const obsDash = [[], [], [], [0.5, 15], [0.5, 14], [0.5, 18]];
const obsWidth = [12, 11, 11, 13, 13, 13];

Chart.defaults.font.family = "'DejaVu Sans', sans-serif";
Chart.defaults.color = '#000';

// stretch the 6000x1800 drawing over the whole window
const outer = document.getElementById('outer');
const wrap = document.getElementById('wrap');
const viewW = window.innerWidth || pageW;
const viewH = window.innerHeight || pageH;
outer.style.width = viewW + 'px';
outer.style.height = viewH + 'px';
wrap.style.transform = 'scale(' + (viewW / pageW) + ',' + (viewH / pageH) + ')';

function toPoints(values) {
  return values.map((v, i) => ({ x: i * stepHours, y: v }));
}

function drawLegend(ctx, a) {
  const w = 274, h = 135;
  const x = a.right - 13 - w;
  const y = a.top + 15;
  ctx.beginPath();
  ctx.roundRect(x, y, w, h, 8);
  ctx.fillStyle = 'rgba(255,255,255,0.8)';
  ctx.fill();
  ctx.lineWidth = 3;
  ctx.strokeStyle = '#cccccc';
  ctx.stroke();

  const rows = [y + 23, y + 65, y + 107];
  ctx.fillStyle = '#ff0000';
  ctx.beginPath();
  ctx.arc(x + 39, rows[0], 6.5, 0, 2 * Math.PI);
  ctx.fill();

  ctx.lineWidth = 4;
  ctx.strokeStyle = '#008000';
  ctx.beginPath();
  ctx.moveTo(x + 10, rows[1]);
  ctx.lineTo(x + 69, rows[1]);
  ctx.stroke();

  ctx.strokeStyle = '#0000ff';
  ctx.setLineDash([11, 10]);
  ctx.beginPath();
  ctx.moveTo(x + 12, rows[2]);
  ctx.lineTo(x + 69, rows[2]);
  ctx.stroke();
  ctx.setLineDash([]);

  ctx.fillStyle = '#000';
  ctx.font = "27px 'DejaVu Sans'";
  ctx.textAlign = 'left';
  ctx.textBaseline = 'middle';
  seriesLabels.forEach((label, k) => ctx.fillText(label, x + 91, rows[k] + 1));
}

const decorPlugin = {
  id: 'decor',
  afterDatasetsDraw(chart, args, opts) {
    const ctx = chart.ctx;
    const a = chart.chartArea;
    ctx.save();
    ctx.strokeStyle = '#000';
    ctx.lineWidth = 3;
    ctx.strokeRect(a.left, a.top, a.right - a.left, a.bottom - a.top);

    ctx.fillStyle = '#000';
    ctx.textAlign = 'center';
    ctx.textBaseline = 'alphabetic';
    ctx.font = "37px 'DejaVu Sans'";
    ctx.fillText(opts.title, (a.left + a.right) / 2, a.top - 20);

    ctx.textAlign = 'left';
    ctx.font = "bold 27px 'DejaVu Sans'";
    ctx.fillText(opts.note, a.left + 0.05 * (a.right - a.left), a.top + 58);

    if (opts.legend) drawLegend(ctx, a);
    ctx.restore();
  }
};

panelSeries.forEach((series, p) => {
  const col = p % 3;
  const row = Math.floor(p / 3);
  const canvas = document.createElement('canvas');
  canvas.width = colWidth[col];
  canvas.height = rowHeight;
  canvas.style.left = colLeft[col] + 'px';
  canvas.style.top = rowTop[row] + 'px';
  canvas.style.width = colWidth[col] + 'px';
  canvas.style.height = rowHeight + 'px';
  wrap.appendChild(canvas);

  const [obs, run100f, run100i] = series;
  const rightPad = colWidth[col] - axisLeft - plotWidth;

  new Chart(canvas.getContext('2d'), {
    type: 'line',
    data: {
      datasets: [
        {
          label: seriesLabels[2],
          data: toPoints(run100i),
          borderColor: '#0000ff',
          borderWidth: 4,
          borderDash: [13, 8],
          pointRadius: 0,
          cubicInterpolationMode: 'monotone',
          order: 1
        },
        {
          label: seriesLabels[1],
          data: toPoints(run100f),
          borderColor: '#008000',
          borderWidth: 4.5,
          pointRadius: 0,
          cubicInterpolationMode: 'monotone',
          order: 2
        },
        {
          label: seriesLabels[0],
          data: toPoints(obs),
          borderColor: '#ff0000',
          borderWidth: obsWidth[p],
          borderDash: obsDash[p],
          borderCapStyle: 'round',
          borderJoinStyle: 'round',
          pointRadius: 0,
          tension: 0,
          order: 3
        }
      ]
    },
    options: {
      responsive: false,
      animation: false,
      devicePixelRatio: 1,
      events: [],
      parsing: false,
      layout: { padding: { top: padTop[row], right: rightPad, left: 0, bottom: 0 } },
      plugins: {
        legend: { display: false },
        tooltip: { enabled: false },
        decor: { title: stationTitles[p], note: depthNotes[p], legend: p === 0 }
      },
      scales: {
        x: {
          type: 'linear',
          min: 0,
          max: xMaxHours,
          afterBuildTicks: (scale) => { scale.ticks = xTickHours.map(v => ({ value: v })); },
          afterFit: (scale) => { scale.height = axisBottom[row]; },
          border: { display: false },
          grid: { color: '#e8e8e8', lineWidth: 2.5, tickLength: 12, tickColor: '#000', tickWidth: 3 },
          ticks: {
            autoSkip: false,
            maxRotation: 0,
            padding: 2,
            font: { size: 33 },
            color: '#000',
            callback: (v, idx) => xTickLabels[idx]
          }
        },
        y: {
          min: 0,
          max: yMax,
          afterFit: (scale) => { scale.width = axisLeft; },
          border: { display: false },
          grid: { color: '#e8e8e8', lineWidth: 2.5, tickLength: 12, tickColor: '#000', tickWidth: 3 },
          ticks: { stepSize: yStep, padding: 14, font: { size: 33 }, color: '#000' },
          title: {
            display: true,
            text: 'Salinity (PSU)',
            font: { size: 34 },
            color: '#000',
            padding: { top: 30, bottom: 0 }
          }
        }
      }
    },
    plugins: [decorPlugin]
  });
});
</script>
</body>
</html>
